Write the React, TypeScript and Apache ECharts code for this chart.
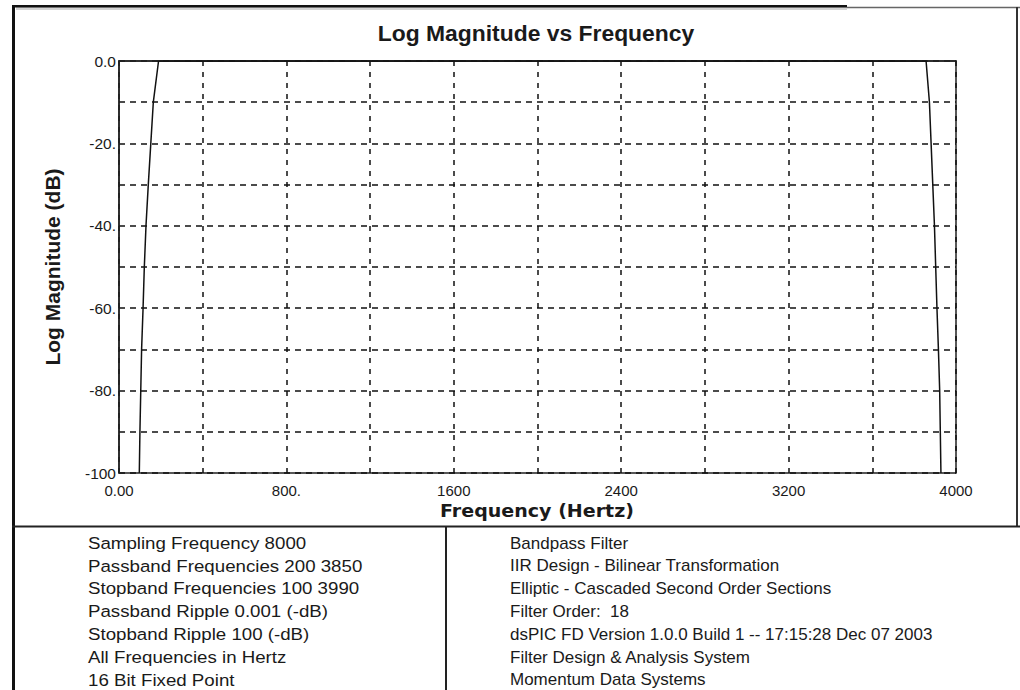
import React, { useEffect, useRef } from "react";
import * as echarts from "echarts";

// Frequency response (Hz, dB)
const freqHz = [97, 100, 104, 108, 115, 121, 129, 140, 152, 164, 189, 3857, 3873, 3881, 3889, 3897, 3903, 3909, 3916, 3922, 3925, 3928];
const magnitudeDb = [-100, -90, -80, -70, -60, -50, -40, -30, -20, -10, 0, 0, -10, -20, -30, -40, -50, -60, -70, -80, -90, -100];

const xLabelValues = [0, 800, 1600, 2400, 3200, 4000];
const xLabelTexts = ["0.00", "800.", "1600", "2400", "3200", "4000"];
const yLabelValues = [0, -20, -40, -60, -80, -100];
const yLabelTexts = ["0.0", "-20.", "-40.", "-60.", "-80.", "-100"];

const chartTitle = "Log Magnitude vs Frequency";
const xAxisTitle = "Frequency (Hertz)";
const yAxisTitle = "Log Magnitude (dB)";

const infoLeft = [
  "Sampling Frequency 8000",
  "Passband Frequencies 200 3850",
  "Stopband Frequencies 100 3990",
  "Passband Ripple 0.001 (-dB)",
  "Stopband Ripple 100 (-dB)",
  "All Frequencies in Hertz",
  "16 Bit Fixed Point",
];
const infoRight = [
  "Bandpass Filter",
  "IIR Design - Bilinear Transformation",
  "Elliptic - Cascaded Second Order Sections",
  "Filter Order:  18",
  "dsPIC FD Version 1.0.0 Build 1 -- 17:15:28 Dec 07 2003",
  "Filter Design & Analysis System",
  "Momentum Data Systems",
];

const FONT = "'Liberation Sans', Arial, sans-serif";
const INK = "#1a1a1a";

export default function App() {
  const ref = useRef<HTMLDivElement>(null);

  useEffect(() => {
    if (!ref.current) return;
    const chart = echarts.init(ref.current, undefined, { renderer: "svg" });

    const lineData = freqHz.map((f, i) => [f, magnitudeDb[i]]);

    const infoTexts: any[] = [];
    infoLeft.forEach((t, i) => {
      infoTexts.push({
        type: "text",
        x: 88,
        y: 543 + i * 22.8,
        scaleX: 1.1,
        style: { text: t, fontSize: 17, fontFamily: FONT, fill: INK, align: "left", verticalAlign: "middle" },
      });
    });
    infoRight.forEach((t, i) => {
      infoTexts.push({
        type: "text",
        x: 510,
        y: 543 + i * 22.8,
        style: { text: t, fontSize: 17, fontFamily: FONT, fill: INK, align: "left", verticalAlign: "middle" },
      });
    });

    chart.setOption({
      animation: false,
      backgroundColor: "#ffffff",
      grid: {
        left: 119,
        top: 61,
        right: 64,
        bottom: 217,
        show: true,
        borderColor: "#222",
        borderWidth: 1.5,
        containLabel: false,
      },
      xAxis: {
        type: "value",
        min: 0,
        max: 4000,
        interval: 400,
        axisLine: { show: true, lineStyle: { color: "#222", width: 1.5 } },
        axisTick: { show: false },
        axisLabel: {
          color: INK,
          fontSize: 15,
          fontFamily: FONT,
          margin: 10,
          showMinLabel: true,
          showMaxLabel: true,
          formatter: (v: number) => {
            const i = xLabelValues.indexOf(Math.round(v));
            return i >= 0 ? xLabelTexts[i] : "";
          },
        },
        splitLine: { show: true, lineStyle: { color: "#111", width: 1.5, type: [5, 6] } },
      },
      yAxis: {
        type: "value",
        min: -100,
        max: 0,
        interval: 10,
        axisLine: { show: true, lineStyle: { color: "#222", width: 1.5 } },
        axisTick: { show: false },
        axisLabel: {
          color: INK,
          fontSize: 15.5,
          fontFamily: FONT,
          margin: 3,
          showMinLabel: true,
          showMaxLabel: true,
          formatter: (v: number) => {
            const i = yLabelValues.indexOf(Math.round(v));
            return i >= 0 ? yLabelTexts[i] : "";
          },
        },
        splitLine: { show: true, lineStyle: { color: "#111", width: 1.5, type: [6, 5] } },
      },
      series: [
        {
          type: "line",
          data: lineData,
          showSymbol: false,
          symbol: "none",
          lineStyle: { color: "#111", width: 1.5 },
          silent: true,
          z: 5,
        },
      ],
      graphic: [
        // frame
        { type: "rect", shape: { x: 16, y: 7, width: 831, height: 3 }, style: { fill: "#d4d4d4" }, silent: true },
        { type: "rect", shape: { x: 12, y: 5, width: 3, height: 685 }, style: { fill: "#111" }, silent: true },
        { type: "rect", shape: { x: 12, y: 5, width: 835, height: 2.5 }, style: { fill: "#111" }, silent: true },
        { type: "line", shape: { x1: 847, y1: 7.5, x2: 1020, y2: 7.5 }, style: { stroke: "#666", lineWidth: 1.5 }, silent: true },
        { type: "line", shape: { x1: 1017, y1: 7, x2: 1017, y2: 526 }, style: { stroke: "#333", lineWidth: 2 }, silent: true },
        { type: "line", shape: { x1: 12, y1: 526.5, x2: 1020, y2: 526.5 }, style: { stroke: "#222", lineWidth: 2 }, silent: true },
        { type: "line", shape: { x1: 446, y1: 526, x2: 446, y2: 690 }, style: { stroke: "#222", lineWidth: 2 }, silent: true },
        // titles
        {
          type: "text",
          x: 536,
          y: 34,
          scaleX: 1.04,
          style: { text: chartTitle, fontSize: 22, fontWeight: "bold", fontFamily: FONT, fill: INK, align: "center", verticalAlign: "middle" },
        },
        {
          type: "text",
          x: 537,
          y: 511,
          scaleX: 1.03,
          style: { text: xAxisTitle, fontSize: 18.5, fontWeight: "bold", fontFamily: "'DejaVu Sans', sans-serif", fill: INK, align: "center", verticalAlign: "middle" },
        },
        {
          type: "text",
          x: 52,
          y: 267,
          rotation: Math.PI / 2,
          style: { text: yAxisTitle, fontSize: 21, fontWeight: "bold", fontFamily: FONT, fill: INK, align: "center", verticalAlign: "middle" },
        },
        ...infoTexts,
      ],
    });

    return () => {
      chart.dispose();
    };
  }, []);

  return (
    <div
      ref={ref}
      style={{ position: "fixed", left: 0, top: 0, width: 1020, height: 690, background: "#fff" }}
    />
  );
}
